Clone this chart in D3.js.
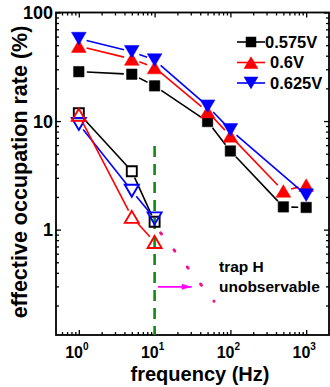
<!DOCTYPE html>
<html>
<head>
<meta charset="utf-8">
<script src="https://cdn.jsdelivr.net/npm/d3@7"></script>
<style>
  body { margin: 0; background: #fff; }
  svg { display: block; font-family: "Liberation Sans", Arial, sans-serif; font-weight: bold; }
</style>
</head>
<body>
<svg id="chart"></svg>
<script>
// frequencies (Hz)
const freqs = [1, 5, 10, 50, 100, 500, 1000];
const freqs625 = [1, 5, 10, 50, 100, 1000];
const openFreqs = [1, 5, 10];

// filled symbols
const rate0575 = [28.5, 27, 21.1, 9.9, 5.3, 1.62, 1.6];
const rate06 = [49, 37.3, 31.1, 12.2, 7.3, 2.27, 2.57];
const rate0625 = [57.5, 43.5, 36.5, 13.7, 8.3, 2.08];

// open symbols
const open0575 = [11.8, 3.45, 1.18];
const open06 = [11.4, 1.31, 0.77];
const open0625 = [9.4, 2.28, 1.27];

const xMajor = [1, 10, 100, 1000];
const yMajor = [1, 10, 100];
const yLabels = ["1", "10", "100"];

const width = 330, height = 387;
const marginLeft = 56, marginRight = 1, marginTop = 12.5, marginBottom = 52;

const x = d3.scaleLog().domain([0.5, 2000]).range([marginLeft, width - marginRight]);
const y = d3.scaleLog().domain([0.107, 100]).range([height - marginBottom, marginTop]);

const svg = d3.select("#chart")
    .attr("width", width)
    .attr("height", height)
    .attr("viewBox", [0, 0, width, height]);

// minor tick values
const xMinor = [];
for (const d of [0.1, 1, 10, 100, 1000]) for (let k = 2; k <= 9; k++) {
  const v = d * k;
  if (v > 0.5 && v < 2000) xMinor.push(v);
}
const yMinor = [];
for (const d of [0.1, 1, 10]) for (let k = 2; k <= 9; k++) {
  const v = d * k;
  if (v > 0.107 && v < 100) yMinor.push(v);
}

const x0 = marginLeft, x1 = width - marginRight;
const y0 = height - marginBottom, y1 = marginTop;

function tidy(g) {
  g.select(".domain").remove();
  g.selectAll(".tick line").attr("stroke", "#000").attr("stroke-width", 1.3);
}

// bottom / top
svg.append("g").attr("transform", `translate(0,${y0})`)
    .call(d3.axisBottom(x).tickValues(xMajor).tickSize(-5).tickFormat("")).call(tidy);
svg.append("g").attr("transform", `translate(0,${y0})`)
    .call(d3.axisBottom(x).tickValues(xMinor).tickSize(-3).tickFormat("")).call(tidy);
svg.append("g").attr("transform", `translate(0,${y1})`)
    .call(d3.axisTop(x).tickValues(xMajor).tickSize(-5).tickFormat("")).call(tidy);
svg.append("g").attr("transform", `translate(0,${y1})`)
    .call(d3.axisTop(x).tickValues(xMinor).tickSize(-3).tickFormat("")).call(tidy);
// left / right
svg.append("g").attr("transform", `translate(${x0},0)`)
    .call(d3.axisLeft(y).tickValues(yMajor).tickSize(-5).tickFormat("")).call(tidy);
svg.append("g").attr("transform", `translate(${x0},0)`)
    .call(d3.axisLeft(y).tickValues(yMinor).tickSize(-3).tickFormat("")).call(tidy);
svg.append("g").attr("transform", `translate(${x1},0)`)
    .call(d3.axisRight(y).tickValues(yMajor).tickSize(-5).tickFormat("")).call(tidy);
svg.append("g").attr("transform", `translate(${x1},0)`)
    .call(d3.axisRight(y).tickValues(yMinor).tickSize(-3).tickFormat("")).call(tidy);

// frame
svg.append("rect")
    .attr("x", x0).attr("y", y1)
    .attr("width", x1 - x0).attr("height", y0 - y1)
    .attr("fill", "none").attr("stroke", "#000").attr("stroke-width", 1.8);

// y tick labels
svg.append("g").selectAll("text")
  .data(yMajor)
  .join("text")
    .attr("x", 53)
    .attr("y", d => y(d))
    .attr("dy", "0.36em")
    .attr("text-anchor", "end")
    .attr("font-size", 18)
    .text((d, i) => yLabels[i]);

// x tick labels 10^n
const xl = svg.append("g").selectAll("text")
  .data(xMajor)
  .join("text")
    .attr("x", d => x(d) - 2)
    .attr("y", 358)
    .attr("text-anchor", "middle")
    .attr("font-size", 16);
xl.append("tspan").text("10");
xl.append("tspan").attr("dy", -8).attr("font-size", 10).text(d => Math.round(Math.log10(d)));

// axis titles
svg.append("text")
    .attr("x", 200).attr("y", 381)
    .attr("text-anchor", "middle")
    .attr("font-size", 20)
    .text("frequency (Hz)");
svg.append("text")
    .attr("transform", "translate(27,172) rotate(-90)")
    .attr("text-anchor", "middle")
    .attr("font-size", 21.5)
    .text("effective occupation rate (%)");

// green dashed marker at 10 Hz
svg.append("line")
    .attr("x1", x(10)).attr("x2", x(10))
    .attr("y1", y(5.9)).attr("y2", y0)
    .attr("stroke", "#118a11").attr("stroke-width", 2.6)
    .attr("stroke-dasharray", "11,7");

// symbols
function markerPath(type, s) {
  if (type === "square") return `M${-s/2},${-s/2}h${s}v${s}h${-s}Z`;
  const w = s * 1.4, h = s * 1.2;
  if (type === "up") return `M0,${-h/2}L${w/2},${h/2}L${-w/2},${h/2}Z`;
  return `M0,${h/2}L${w/2},${-h/2}L${-w/2},${-h/2}Z`;
}

function drawSeries(fx, fy, color, type, open) {
  const pts = fx.map((f, i) => [x(f), y(fy[i])]);
  const gap = open ? 7 : 8;
  const g = svg.append("g");
  for (let i = 0; i < pts.length - 1; i++) {
    const [ax, ay] = pts[i], [bx, by] = pts[i + 1];
    const len = Math.hypot(bx - ax, by - ay);
    if (len <= 2 * gap) continue;
    const ux = (bx - ax) / len, uy = (by - ay) / len;
    g.append("line")
        .attr("x1", ax + ux * gap).attr("y1", ay + uy * gap)
        .attr("x2", bx - ux * gap).attr("y2", by - uy * gap)
        .attr("stroke", color).attr("stroke-width", 1.6);
  }
  g.selectAll("path")
    .data(pts)
    .join("path")
      .attr("transform", d => `translate(${d[0]},${d[1]})`)
      .attr("d", markerPath(type, open ? 10 : 10.5))
      .attr("fill", open ? "none" : color)
      .attr("stroke", color)
      .attr("stroke-width", open ? 1.9 : 0.5);
}

drawSeries(openFreqs, open0575, "#000", "square", true);
drawSeries(openFreqs, open0625, "#0000ff", "down", true);
drawSeries(openFreqs, open06, "#ff0000", "up", true);

drawSeries(freqs, rate0575, "#000", "square", false);
drawSeries(freqs, rate06, "#ff0000", "up", false);
drawSeries(freqs625, rate0625, "#0000ff", "down", false);

// dotted extrapolation
svg.append("line")
    .attr("x1", x(12)).attr("y1", y(0.934))
    .attr("x2", x(60.8)).attr("y2", y(0.219))
    .attr("stroke", "#f0148c").attr("stroke-width", 3)
    .attr("stroke-linecap", "round")
    .attr("stroke-dasharray", "1.5,20.15");

// arrow
svg.append("defs").append("marker")
    .attr("id", "arrow")
    .attr("viewBox", "0 0 10 6")
    .attr("refX", 10).attr("refY", 3)
    .attr("markerUnits", "userSpaceOnUse")
    .attr("markerWidth", 11).attr("markerHeight", 6)
    .attr("orient", "auto")
  .append("path")
    .attr("d", "M0,0L10,3L0,6Z")
    .attr("fill", "#ff00ff");
svg.append("line")
    .attr("x1", x(11.1)).attr("y1", y(0.297))
    .attr("x2", x(30.9)).attr("y2", y(0.297))
    .attr("stroke", "#ff00ff").attr("stroke-width", 1.6)
    .attr("marker-end", "url(#arrow)");

svg.append("text").attr("x", 219).attr("y", 272).attr("font-size", 15.5).text("trap H");
svg.append("text").attr("x", 219).attr("y", 292).attr("font-size", 15.5).text("unobservable");

// legend
const legend = [
  {name: "0.575V", color: "#000", type: "square", dx: 0},
  {name: "0.6V", color: "#ff0000", type: "up", dx: 5},
  {name: "0.625V", color: "#0000ff", type: "down", dx: 5}
];
const lg = svg.append("g").selectAll("g")
  .data(legend)
  .join("g")
    .attr("transform", (d, i) => `translate(237,${42 + i * 20.5})`);
lg.append("line")
    .attr("x1", 0).attr("x2", 28)
    .attr("stroke", d => d.color).attr("stroke-width", 1.6);
lg.append("path")
    .attr("transform", "translate(14,0)")
    .attr("d", d => markerPath(d.type, 10.5))
    .attr("fill", d => d.color);
lg.append("text")
    .attr("x", d => 28 + d.dx)
    .attr("dy", "0.36em")
    .attr("font-size", 16.5)
    .text(d => d.name);
</script>
</body>
</html>
